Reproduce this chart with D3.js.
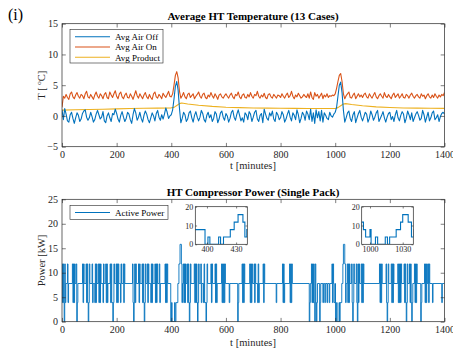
<!DOCTYPE html>
<html><head><meta charset="utf-8">
<script src="https://cdn.jsdelivr.net/npm/d3@7"></script>
<style>body{margin:0;background:#fff}svg{display:block}</style>
</head><body><svg id="c" width="453" height="351"></svg>
<script>
// ---------------- DATA ----------------
const sampleStepMin = 5; // temperature samples every 5 minutes, 0..1400
const xTicks = [0, 200, 400, 600, 800, 1000, 1200, 1400];
const tempTicks = [-5, 0, 5, 10, 15];
const powerTicks = [0, 5, 10, 15, 20, 25];
const insetYTicks = [0, 10, 20];
const inset1XTicks = [400, 430];
const inset2XTicks = [1000, 1030];
const tempSeriesNames = ["Avg Air Off", "Avg Air On", "Avg Product"];
const powerSeriesName = "Active Power";

const airOff = [
 1.0,-0.6,1.2,0.3,-0.8,-1.0,0.2,0.6,-0.4,-1.2,-0.3,0.5,0.1,-0.9,-0.5,0.4,0.8,1.0,-0.2,-0.7,
 -0.3,0.6,-0.1,-1.0,-0.6,0.3,0.9,0.2,-0.5,-0.2,0.7,-0.8,-1.1,0.0,0.5,-0.3,-0.9,0.4,0.2,1.1,
 0.4,-0.5,-1.0,0.1,0.7,-0.2,-0.9,-0.4,0.6,0.3,-0.6,-1.2,0.2,1.2,0.5,-0.7,-0.2,0.6,-0.4,-1.0,
 0.1,0.8,0.3,-0.6,-1.1,-0.3,0.5,0.0,-0.8,0.4,0.9,-0.2,-0.7,0.2,-0.5,0.3,1.3,0.6,-0.4,0.0,
 0.2,1.0,2.8,4.8,5.6,4.2,1.2,-1.1,-0.4,0.6,0.2,-0.9,-0.5,0.5,0.8,-0.3,-1.0,0.1,0.7,-0.2,
 -0.8,-0.2,0.9,0.4,-0.6,-1.0,0.1,0.6,-0.3,0.2,-0.9,-0.4,0.7,0.3,-1.1,-0.5,0.5,0.8,-0.2,-0.7,
 0.4,0.0,-1.0,-0.4,0.6,0.9,-0.2,-0.7,0.3,1.0,0.1,-0.8,-0.3,-1.0,0.5,0.2,-0.6,0.7,0.3,-0.9,
 -0.2,0.6,0.9,-0.5,-0.9,0.1,0.4,-1.1,1.1,0.3,-0.4,-0.7,0.5,0.0,0.8,-0.5,-0.9,0.6,0.2,-0.6,
 -0.3,0.7,0.2,-1.0,-0.5,0.3,0.9,-0.2,-0.8,0.5,0.1,-0.6,1.0,0.2,-1.1,-0.4,0.6,0.2,-0.7,0.8,
 0.3,-0.6,1.1,-0.9,0.5,-1.2,1.0,-0.3,0.7,-0.8,0.9,-1.0,0.5,0.1,-0.4,-0.6,0.6,0.0,-0.2,0.3,
 0.6,1.4,3.2,5.0,5.5,3.8,0.9,-1.0,-0.3,0.5,0.8,-0.4,-0.9,0.2,0.7,-1.1,-0.3,0.4,0.9,-0.2,
 -0.8,-0.1,0.6,0.3,-1.0,-0.4,0.8,0.2,-0.7,-0.2,0.5,0.9,-0.9,-0.4,0.1,0.7,-0.3,-1.0,-0.2,0.4,
 0.6,-0.6,-0.1,-0.9,0.2,0.9,-0.3,-0.8,0.1,0.7,0.3,-1.1,-0.4,0.8,0.2,-0.6,0.5,-0.9,-0.3,0.3,
 0.7,0.1,-0.7,-0.4,0.9,0.2,-1.0,-0.2,0.6,-0.8,-0.3,0.5,0.8,-0.6,-0.3,0.2,-0.9,-0.1,0.4,0.6,
 0.3
];
const airOn = [
 1.4,3.2,2.9,3.5,3.0,2.7,3.6,3.9,3.1,2.8,3.4,3.8,3.2,2.9,3.5,3.3,2.8,3.6,4.0,3.1,
 2.9,3.5,3.1,2.7,3.4,3.9,3.2,2.9,3.6,3.3,2.8,3.5,3.8,3.0,2.8,3.9,3.4,3.0,3.6,4.1,
 3.2,2.8,3.6,3.9,3.1,2.8,3.4,3.7,3.0,2.9,3.6,3.2,2.7,3.4,4.1,3.3,2.9,3.6,3.2,2.8,
 3.4,3.8,3.1,2.8,3.5,3.0,2.7,3.6,3.9,3.1,2.9,3.5,3.2,2.8,3.7,3.3,3.0,3.5,4.0,3.2,
 3.1,3.6,5.0,6.6,7.2,6.2,4.0,2.9,3.3,3.8,3.1,2.8,3.5,3.7,3.0,3.3,3.6,2.8,3.2,3.5,
 3.9,3.2,2.9,3.5,3.7,3.0,2.8,3.4,3.1,3.8,3.3,2.9,3.6,3.2,2.7,3.4,3.6,3.1,2.9,3.3,
 3.6,3.2,2.9,3.4,3.7,3.1,2.8,3.5,3.3,3.9,3.1,2.8,3.4,3.6,3.0,2.9,3.5,3.1,3.8,3.2,
 2.9,3.5,3.3,4.0,3.2,2.9,3.4,3.1,3.7,3.0,2.8,3.5,3.6,3.1,2.9,3.5,3.2,2.9,3.4,3.3,
 3.0,3.6,3.2,2.9,3.4,3.7,3.0,3.3,4.0,3.2,2.8,3.4,3.1,3.7,3.3,2.9,3.1,3.5,3.2,3.0,
 3.6,2.9,3.9,3.0,2.7,3.8,3.2,3.5,2.9,3.3,3.7,2.8,3.4,3.1,3.6,3.0,3.3,3.2,3.4,3.3,
 3.6,4.5,5.6,6.6,6.9,5.6,3.6,2.8,3.3,3.6,3.9,3.0,2.9,3.4,3.7,2.8,3.2,3.6,3.1,3.4,
 3.0,3.5,3.7,3.1,2.9,3.6,3.2,2.9,3.4,3.8,3.1,2.8,3.3,3.6,3.2,2.9,3.8,3.2,3.0,3.5,
 3.1,2.8,3.4,3.7,3.0,3.3,3.6,2.9,3.2,3.6,3.0,2.9,3.5,3.3,2.9,3.4,3.7,3.2,2.9,3.3,
 3.5,3.1,2.9,3.6,3.2,3.4,2.8,3.3,3.6,3.1,2.9,3.4,3.0,3.6,3.2,2.9,3.4,3.1,3.5,3.3,
 3.8
];
const productMinutes = [0,50,100,150,200,250,300,350,400,410,420,430,438,460,500,550,600,650,700,750,800,850,900,950,1000,1010,1020,1030,1038,1060,1100,1150,1200,1250,1300,1350,1400];
const productTemp    = [0.95,1.0,1.05,1.1,1.15,1.2,1.25,1.28,1.32,1.4,1.7,2.0,2.1,1.95,1.75,1.55,1.42,1.35,1.3,1.27,1.25,1.23,1.22,1.22,1.22,1.35,1.65,1.95,2.0,1.85,1.65,1.48,1.38,1.3,1.27,1.25,1.23];

// compressor power: [minute at which the level starts, kW]
const powerSteps = [
 [0,11.8],[2,3.9],[4,11.8],[6,3.9],[8,0],[10,11.8],[12,3.9],[14,7.8],
 [20,11.8],[22,3.9],[24,7.8],
 [38,11.8],[40,3.9],[42,11.8],[44,3.9],[46,11.8],[48,7.8],[52,11.8],[54,0],[56,3.9],[58,7.8],
 [75,11.8],[77,3.9],[79,11.8],[81,7.8],
 [88,11.8],[90,3.9],[92,11.8],[94,3.9],[96,0],[98,3.9],[100,11.8],[102,7.8],
 [110,11.8],[112,3.9],[114,7.8],
 [120,3.9],[122,11.8],[124,3.9],[126,11.8],[128,7.8],
 [133,11.8],[135,3.9],[137,11.8],[139,3.9],[141,11.8],[143,7.8],
 [150,3.9],[152,11.8],[154,7.8],
 [160,11.8],[162,3.9],[164,11.8],[166,3.9],[168,7.8],
 [176,11.8],[178,3.9],[180,11.8],[182,3.9],[186,0],[188,3.9],[190,11.8],[192,7.8],
 [198,11.8],[200,3.9],[202,11.8],[204,3.9],[206,11.8],[208,7.8],
 [214,3.9],[216,11.8],[218,7.8],
 [224,11.8],[226,3.9],[228,11.8],[230,7.8],
 [258,11.8],[260,3.9],[262,0],[264,3.9],[266,11.8],[268,3.9],[270,11.8],[272,7.8],
 [280,11.8],[282,3.9],[284,11.8],[286,7.8],
 [293,11.8],[295,3.9],[297,11.8],[299,3.9],[301,0],[303,3.9],[305,11.8],[307,7.8],
 [312,11.8],[314,3.9],[316,11.8],[318,7.8],
 [325,3.9],[327,11.8],[329,3.9],[331,11.8],[333,7.8],
 [340,11.8],[342,3.9],[344,11.8],[346,3.9],[348,11.8],[350,7.8],
 [356,11.8],[358,3.9],[360,7.8],
 [377,11.8],[379,3.9],[381,11.8],[383,3.9],[385,11.8],[387,7.8],
 [398,0],[401,3.9],[403,0],[412,3.9],[414,0],[417,3.9],[424,7.8],[428,11.8],[432,15.8],[437,11.8],[439,3.9],[441,7.8],
 [444,11.8],[446,3.9],[448,11.8],[450,3.9],[452,11.8],[454,7.8],
 [458,11.8],[460,3.9],[462,11.8],[464,3.9],[466,0],[468,3.9],[470,11.8],[472,7.8],
 [484,11.8],[486,3.9],[488,11.8],[490,3.9],[492,11.8],[494,3.9],[496,0],[498,3.9],[500,11.8],[502,7.8],
 [508,11.8],[510,3.9],[512,7.8],
 [518,3.9],[520,11.8],[522,3.9],[527,0],[529,3.9],[531,11.8],[533,7.8],
 [545,11.8],[547,3.9],[549,11.8],[551,7.8],
 [560,11.8],[562,3.9],[564,11.8],[566,3.9],[568,7.8],
 [584,11.8],[586,3.9],[588,11.8],[590,3.9],[592,11.8],[594,3.9],[596,11.8],[598,7.8],
 [612,3.9],[614,7.8],
 [643,0],[645,3.9],[647,7.8],
 [659,11.8],[661,3.9],[663,11.8],[665,3.9],[667,11.8],[669,7.8],
 [687,11.8],[689,3.9],[691,11.8],[693,3.9],[695,11.8],[697,7.8],
 [703,11.8],[705,3.9],[707,11.8],[709,7.8],
 [716,3.9],[718,11.8],[720,3.9],[722,7.8],
 [736,11.8],[738,3.9],[740,11.8],[742,7.8],
 [784,3.9],[786,7.8],
 [807,11.8],[809,3.9],[811,11.8],[813,3.9],[815,7.8],
 [833,11.8],[835,3.9],[837,11.8],[839,3.9],[841,11.8],[843,7.8],
 [905,0],[907,3.9],[909,7.8],
 [913,11.8],[915,3.9],[917,11.8],[919,3.9],[921,11.8],[923,3.9],[925,0],[927,11.8],[929,3.9],[931,0],[933,3.9],[935,7.8],
 [943,0],[945,3.9],[947,7.8],
 [955,3.9],[957,7.8],[962,3.9],[964,7.8],[970,3.9],[972,7.8],[978,3.9],[980,7.8],
 [988,11.8],[990,3.9],[992,11.8],[994,7.8],[996,3.9],[1000,7.8],[1001,0],[1005,3.9],[1007,0],[1014,3.9],[1016,0],[1018,3.9],[1024,7.8],[1028,11.8],[1030,15.8],[1035,11.8],[1038,3.9],[1040,7.8],
 [1044,11.8],[1046,3.9],[1048,11.8],[1050,3.9],[1052,11.8],[1054,7.8],
 [1060,11.8],[1062,3.9],[1064,0],[1066,3.9],[1068,11.8],[1070,7.8],
 [1077,11.8],[1079,3.9],[1081,0],[1083,11.8],[1085,3.9],[1087,11.8],[1089,7.8],
 [1095,11.8],[1097,3.9],[1099,11.8],[1101,3.9],[1103,11.8],[1105,7.8],
 [1162,11.8],[1164,3.9],[1166,11.8],[1168,3.9],[1170,11.8],[1172,7.8],
 [1186,11.8],[1188,3.9],[1190,0],[1192,3.9],[1194,11.8],[1196,7.8],
 [1205,11.8],[1207,3.9],[1209,11.8],[1211,3.9],[1213,11.8],[1215,7.8],
 [1229,11.8],[1231,3.9],[1233,11.8],[1235,3.9],[1237,11.8],[1239,3.9],[1241,11.8],[1243,7.8],
 [1252,11.8],[1254,3.9],[1256,11.8],[1258,3.9],[1260,0],[1262,3.9],[1264,11.8],[1266,7.8],
 [1272,11.8],[1274,3.9],[1276,11.8],[1278,3.9],[1280,0],[1282,3.9],[1284,7.8],
 [1290,11.8],[1292,3.9],[1294,11.8],[1296,3.9],[1298,11.8],[1300,7.8],
 [1313,0],[1315,3.9],[1317,7.8],
 [1327,11.8],[1329,3.9],[1331,11.8],[1333,3.9],[1335,11.8],[1337,7.8],
 [1340,11.8],[1342,3.9],[1344,11.8],[1346,7.8],
 [1356,3.9],[1358,7.8],
 [1390,3.9],[1392,7.8],[1400,7.8]
];

// ---------------- DRAWING ----------------
const FONT = '"Liberation Serif","Times New Roman",Times,serif';
const AX = '#262626';
const COLORS = ['#0072BD', '#D95319', '#EDB120'];
const svg = d3.select('#c').style('font-family', FONT);
let clipId = 0;
const fmt = d3.format('d');

function axesFrame(g, x, y, opt) {
  const [x0, x1] = x.range(), [y0, y1] = y.range(); // y0 bottom
  const tl = opt.tickLen, fs = opt.fontSize;
  const style = s => s.call(a => a.select('.domain').remove())
      .call(a => a.selectAll('line').attr('stroke', AX).attr('stroke-width', 0.6))
      .call(a => a.selectAll('text').attr('fill', AX).style('font-family', FONT).style('font-size', fs + 'px'));
  g.append('g').attr('transform', `translate(0,${y0})`)
    .call(d3.axisBottom(x).tickValues(opt.xTicks).tickFormat(fmt).tickSize(-tl).tickPadding(opt.xPad)).call(style);
  g.append('g').attr('transform', `translate(0,${y1})`)
    .call(d3.axisTop(x).tickValues(opt.xTicks).tickSize(-tl).tickFormat('')).call(style);
  g.append('g').attr('transform', `translate(${x0},0)`)
    .call(d3.axisLeft(y).tickValues(opt.yTicks).tickFormat(fmt).tickSize(-tl).tickPadding(opt.yPad)).call(style);
  g.append('g').attr('transform', `translate(${x1},0)`)
    .call(d3.axisRight(y).tickValues(opt.yTicks).tickSize(-tl).tickFormat('')).call(style);
  g.append('rect').attr('x', x0).attr('y', y1).attr('width', x1 - x0).attr('height', y0 - y1)
    .attr('fill', 'none').attr('stroke', AX).attr('stroke-width', 0.7);
}
function clipFor(x, y) {
  const id = 'clip' + (clipId++);
  const [x0, x1] = x.range(), [y0, y1] = y.range();
  svg.append('clipPath').attr('id', id).append('rect')
    .attr('x', x0).attr('y', y1).attr('width', x1 - x0).attr('height', y0 - y1);
  return `url(#${id})`;
}

// ---- Panel label
svg.append('text').attr('x', 8).attr('y', 20).style('font-size', '16px').attr('fill', '#000').text('(i)');

// ---- Top panel: temperatures
const xT = d3.scaleLinear().domain([0, 1400]).range([62, 444.5]);
const yT = d3.scaleLinear().domain([-5, 15]).range([146.7, 23.7]);
const gT = svg.append('g');
const clipT = clipFor(xT, yT);
const tempLine = d3.line().x(d => xT(d[0])).y(d => yT(d[1]));
const offPts = airOff.map((v, i) => [i * sampleStepMin, v]);
const onPts = airOn.map((v, i) => [i * sampleStepMin, v]);
const prodPts = productTemp.map((v, i) => [productMinutes[i], v]);
const tempSeries = [offPts, onPts, prodPts];
const lg = gT.append('g').attr('clip-path', clipT);
[prodPts, onPts, offPts].forEach(pts => {
  const idx = tempSeries.indexOf(pts);
  lg.append('path').attr('d', tempLine(pts)).attr('fill', 'none')
    .attr('stroke', COLORS[idx]).attr('stroke-width', 1.1).attr('stroke-linejoin', 'round');
});
axesFrame(gT, xT, yT, {xTicks, yTicks: tempTicks, tickLen: 3.8, fontSize: 10, xPad: 4, yPad: 4});
gT.append('text').attr('x', 253).attr('y', 19.5).attr('text-anchor', 'middle')
  .style('font-size', '11px').style('font-weight', 'bold').attr('fill', '#000')
  .text('Average HT Temperature (13 Cases)');
gT.append('text').attr('x', 253).attr('y', 169).attr('text-anchor', 'middle')
  .style('font-size', '10.5px').attr('fill', AX).text('t [minutes]');
const yl = gT.append('text').attr('transform', 'translate(45,85.2) rotate(-90)').attr('text-anchor', 'middle')
  .style('font-size', '10.5px').attr('fill', AX);
yl.append('tspan').text('T [ ');
yl.append('tspan').attr('dy', -4).style('font-size', '7px').text('o');
yl.append('tspan').attr('dy', 4).text('C]');
// legend
const legT = gT.append('g');
legT.append('rect').attr('x', 70).attr('y', 29.5).attr('width', 93).attr('height', 33.5)
  .attr('fill', '#fff').attr('stroke', AX).attr('stroke-width', 0.6);
tempSeriesNames.forEach((name, i) => {
  const yy = 36.7 + i * 10.3;
  legT.append('line').attr('x1', 75).attr('x2', 110).attr('y1', yy).attr('y2', yy)
    .attr('stroke', COLORS[i]).attr('stroke-width', 1.1);
  legT.append('text').attr('x', 115).attr('y', yy + 3.2).style('font-size', '9px').attr('fill', '#000').text(name);
});

// ---- Bottom panel: compressor power
const xP = d3.scaleLinear().domain([0, 1400]).range([62, 444.5]);
const yP = d3.scaleLinear().domain([0, 25]).range([321.7, 199.3]);
const gP = svg.append('g');
const clipP = clipFor(xP, yP);
const stepPts = powerSteps;
const powerLine = (xs, ys) => d3.line().curve(d3.curveStepAfter).x(d => xs(d[0])).y(d => ys(d[1]));
gP.append('g').attr('clip-path', clipP).append('path').attr('d', powerLine(xP, yP)(stepPts))
  .attr('fill', 'none').attr('stroke', COLORS[0]).attr('stroke-width', 0.9);
axesFrame(gP, xP, yP, {xTicks, yTicks: powerTicks, tickLen: 3.8, fontSize: 10, xPad: 4, yPad: 4});
gP.append('text').attr('x', 253).attr('y', 196).attr('text-anchor', 'middle')
  .style('font-size', '11px').style('font-weight', 'bold').attr('fill', '#000')
  .text('HT Compressor Power (Single Pack)');
gP.append('text').attr('x', 253).attr('y', 346).attr('text-anchor', 'middle')
  .style('font-size', '10.5px').attr('fill', AX).text('t [minutes]');
gP.append('text').attr('transform', 'translate(45,260.5) rotate(-90)').attr('text-anchor', 'middle')
  .style('font-size', '10.5px').attr('fill', AX).text('Power [kW]');
const legP = gP.append('g');
legP.append('rect').attr('x', 70).attr('y', 205.3).attr('width', 98).attr('height', 14)
  .attr('fill', '#fff').attr('stroke', AX).attr('stroke-width', 0.6);
legP.append('line').attr('x1', 75).attr('x2', 110).attr('y1', 212.5).attr('y2', 212.5)
  .attr('stroke', COLORS[0]).attr('stroke-width', 1.1);
legP.append('text').attr('x', 115).attr('y', 215.7).style('font-size', '9px').attr('fill', '#000').text(powerSeriesName);

// ---- Insets
function inset(domain, range, ticks) {
  const xi = d3.scaleLinear().domain(domain).range(range);
  const yi = d3.scaleLinear().domain([0, 20]).range([244.3, 206.7]);
  const g = svg.append('g');
  g.append('rect').attr('x', range[0]).attr('y', 206.7).attr('width', range[1] - range[0]).attr('height', 37.6).attr('fill', '#fff');
  const cp = clipFor(xi, yi);
  g.append('g').attr('clip-path', cp).append('path').attr('d', powerLine(xi, yi)(stepPts))
    .attr('fill', 'none').attr('stroke', COLORS[0]).attr('stroke-width', 1.1);
  axesFrame(g, xi, yi, {xTicks: ticks, yTicks: insetYTicks, tickLen: 1.8, fontSize: 8, xPad: 2, yPad: 2});
}
inset([388, 441.5], [195.3, 247.3], inset1XTicks);
inset([992.4, 1039.7], [361.7, 413.3], inset2XTicks);
</script>
</body></html>
